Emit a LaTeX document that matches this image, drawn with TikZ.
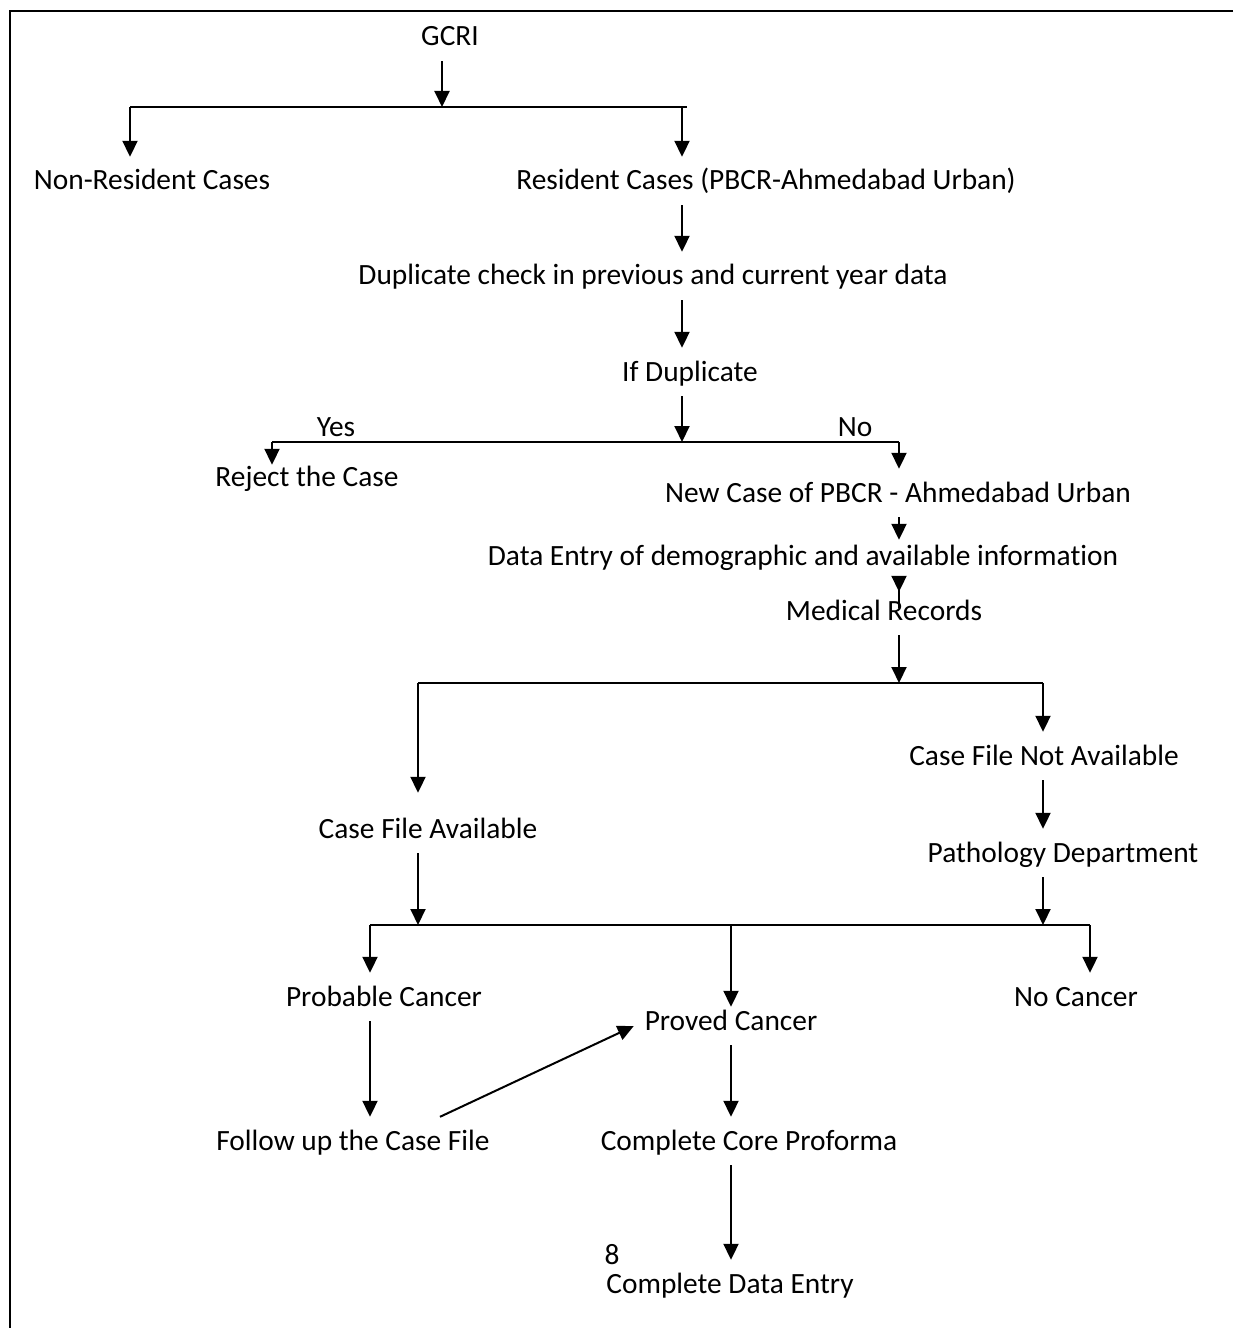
\documentclass[tikz,border=0pt]{standalone}
\usepackage{fontspec}
\setmainfont{Carlito}[Ligatures=NoCommon]
\usetikzlibrary{arrows.meta}

\tikzset{
  lbl/.style={font=\fontsize{29.5}{35}\selectfont, anchor=base, inner xsep=0pt, inner ysep=15bp, text height=18bp, text depth=0pt},
  arr/.style={-{Triangle[length=16bp,width=15bp]}, line width=2bp},
  bus/.style={line width=2bp},
}

\begin{document}
\begin{tikzpicture}[x=1bp,y=1bp]
\useasboundingbox (0,0) rectangle (1233,-1328);
\draw[line width=2.5bp] (1233,-11) -- (10,-11) -- (10,-1328);

% texts
\node[lbl] (gcri) at (450,-46) {GCRI};
\node[lbl] (nonres) at (152,-190) {Non-Resident Cases};
\node[lbl] (res) at (766,-190) {Resident Cases (PBCR-Ahmedabad Urban)};
\node[lbl] (dup) at (653,-285) {Duplicate check in previous and current year data};
\node[lbl] (ifdup) at (690,-381) {If Duplicate};
\node[lbl] (yes) at (336,-436) {Yes};
\node[lbl] (no) at (855,-436) {No};
\node[lbl] (reject) at (307,-486) {Reject the Case};
\node[lbl] (newcase) at (898,-502) {New Case of PBCR - Ahmedabad Urban};
\node[lbl] (entry) at (803,-565) {Data Entry of demographic and available information};
\node[lbl] (medrec) at (884,-620) {Medical Records};
\node[lbl] (filena) at (1044,-765) {Case File Not Available};
\node[lbl] (fileav) at (428,-838) {Case File Available};
\node[lbl] (patho) at (1063,-862) {Pathology Department};
\node[lbl] (probable) at (384,-1006) {Probable Cancer};
\node[lbl] (nocancer) at (1076,-1006) {No Cancer};
\node[lbl] (proved) at (731,-1030) {Proved Cancer};
\node[lbl] (followup) at (353,-1150) {Follow up the Case File};
\node[lbl] (core) at (749,-1150) {Complete Core Proforma};
\node[lbl, inner ysep=0pt] (pagenum) at (612,-1264) {8};
\node[lbl] (dataentry) at (730,-1293) {Complete Data Entry};

% branch lines
\coordinate (b1l) at (130,-107);
\coordinate (b1r) at (687,-107);
\coordinate (b1in) at (442,-107);
\coordinate (b1out) at (682,-107);
\coordinate (b2l) at (272,-442);
\coordinate (b2r) at (899,-442);
\coordinate (b2in) at (682,-442);
\coordinate (b3l) at (418,-683);
\coordinate (b3r) at (1043,-683);
\coordinate (b3in) at (899,-683);
\coordinate (b4l) at (370,-925);
\coordinate (b4r) at (1090,-925);
\coordinate (b4a) at (418,-925);
\coordinate (b4b) at (1043,-925);
\coordinate (b4mid) at (731,-925);

\draw[bus] (b1l) -- (b1r);
\draw[bus] (b2l) -- (b2r);
\draw[bus] (b3l) -- (b3r);
\draw[bus] (b4l) -- (b4r);

% arrows
\draw[arr] (gcri.south -| b1in) -- (b1in);
\draw[arr] (b1l) -- (nonres.north -| b1l);
\draw[arr] (b1out) -- (res.north -| b1out);
\draw[arr] (res.south -| b1out) -- (dup.north -| b1out);
\draw[arr] (dup.south -| b1out) -- (ifdup.north -| b1out);
\draw[arr] (ifdup.south -| b2in) -- (b2in);
\draw[arr, shorten >=-12bp] (b2l) -- (reject.north -| b2l);
\draw[arr] (b2r) -- (newcase.north -| b2r);
\draw[arr, shorten >=-8bp] (newcase.south -| b2r) -- (entry.north -| b2r);
\draw[arr, shorten <=-28bp, shorten >=-5bp] (entry.south -| b2r) -- (medrec.north -| b2r);
\draw[arr] (medrec.south -| b3in) -- (b3in);
\draw[arr, shorten >=12bp] (b3l) -- (fileav.north -| b3l);
\draw[arr] (b3r) -- (filena.north -| b3r);
\draw[arr] (filena.south -| b3r) -- (patho.north -| b3r);
\draw[arr] (fileav.south -| b4a) -- (b4a);
\draw[arr] (patho.south -| b4b) -- (b4b);
\draw[arr] (b4l) -- (probable.north -| b4l);
\draw[arr, shorten >=-10bp] (b4mid) -- (proved.north -| b4mid);
\draw[arr] (b4r) -- (nocancer.north -| b4r);
\draw[arr] (probable.south -| b4l) -- (followup.north -| b4l);
\draw[arr, shorten >=12bp] ([xshift=87bp]followup.north) -- (proved.west);
\draw[arr] (proved.south -| b4mid) -- (core.north -| b4mid);
\draw[arr] (core.south -| b4mid) -- (dataentry.north -| b4mid);
\end{tikzpicture}
\end{document}
